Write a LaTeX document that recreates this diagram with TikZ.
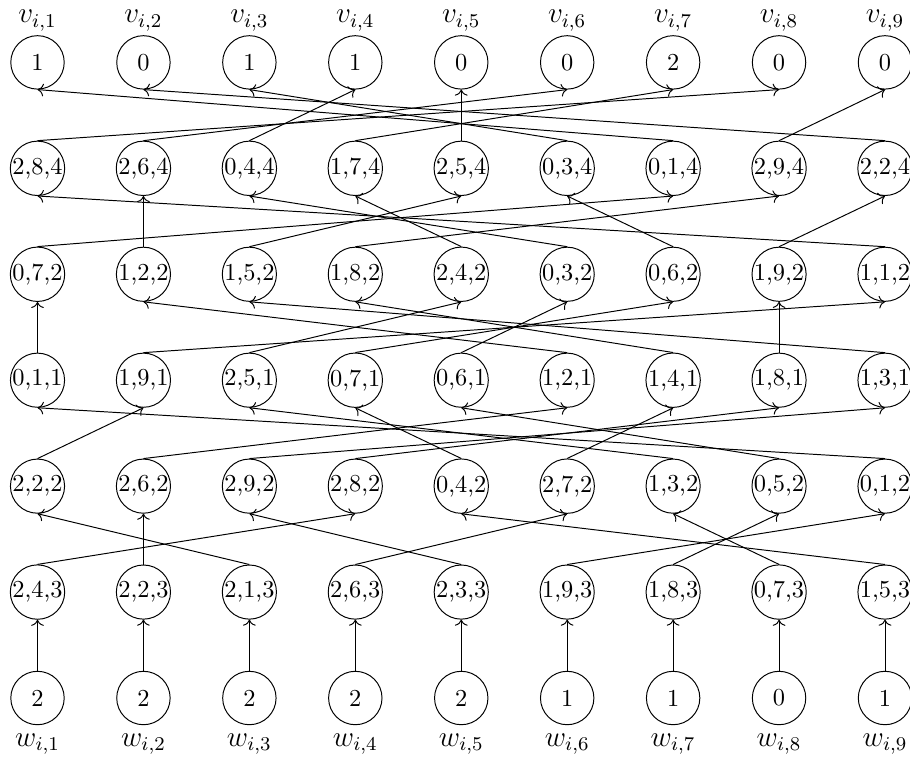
\documentclass[tikz,border=0pt]{standalone}
\usepackage{amsmath,amssymb}
\usepackage{tikz}
\usetikzlibrary{arrows.meta}

\begin{document}
\begin{tikzpicture}[x=1.527cm,y=-1.527cm,
  cell/.style={circle,draw,inner sep=0pt,minimum size=7.7mm},
  every label/.style={font=\large}]
  \useasboundingbox (-0.354,-0.589) rectangle (8.236,6.572);

  % top row
  \foreach \v [count=\j] in {1,0,1,1,0,0,2,0,0}
    \node[cell,label={[inner sep=1.5pt]above:$v_{i,\j}$}] (c-1-\j) at (\j-1,0) {\v};

  \foreach \a/\b/\c [count=\j] in {2/8/4,2/6/4,0/4/4,1/7/4,2/5/4,0/3/4,0/1/4,2/9/4,2/2/4}{
    \node[cell] (c-2-\j) at (\j-1,1) {\a,\b,\c};
    \draw[->] (c-2-\j.north) -- (c-1-\b.south);
  }
  \foreach \a/\b/\c [count=\j] in {0/7/2,1/2/2,1/5/2,1/8/2,2/4/2,0/3/2,0/6/2,1/9/2,1/1/2}{
    \node[cell] (c-3-\j) at (\j-1,2) {\a,\b,\c};
    \draw[->] (c-3-\j.north) -- (c-2-\b.south);
  }
  \foreach \a/\b/\c [count=\j] in {0/1/1,1/9/1,2/5/1,0/7/1,0/6/1,1/2/1,1/4/1,1/8/1,1/3/1}{
    \node[cell] (c-4-\j) at (\j-1,3) {\a,\b,\c};
    \draw[->] (c-4-\j.north) -- (c-3-\b.south);
  }
  \foreach \a/\b/\c [count=\j] in {2/2/2,2/6/2,2/9/2,2/8/2,0/4/2,2/7/2,1/3/2,0/5/2,0/1/2}{
    \node[cell] (c-5-\j) at (\j-1,4) {\a,\b,\c};
    \draw[->] (c-5-\j.north) -- (c-4-\b.south);
  }
  \foreach \a/\b/\c [count=\j] in {2/4/3,2/2/3,2/1/3,2/6/3,2/3/3,1/9/3,1/8/3,0/7/3,1/5/3}{
    \node[cell] (c-6-\j) at (\j-1,5) {\a,\b,\c};
    \draw[->] (c-6-\j.north) -- (c-5-\b.south);
  }

  % bottom row
  \foreach \w [count=\j] in {2,2,2,2,2,1,1,0,1}{
    \node[cell,label=below:$w_{i,\j}$] (c-7-\j) at (\j-1,6) {\w};
    \draw[->] (c-7-\j) -- (c-6-\j);
  }
\end{tikzpicture}
\end{document}
